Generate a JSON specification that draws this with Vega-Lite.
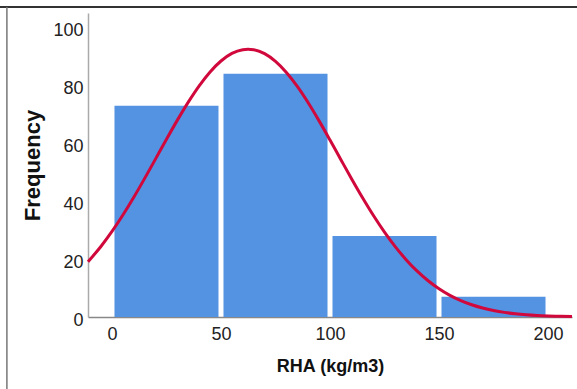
{
  "$schema": "https://vega.github.io/schema/vega-lite/v6.json",
  "width": 484,
  "height": 304,
  "autosize": "none",
  "padding": {"left": 88, "top": 13, "right": 5, "bottom": 72},
  "background": "white",
  "config": {
    "view": {"stroke": null},
    "font": "Liberation Sans",
    "axis": {"grid": false, "ticks": false, "labelFont": "Liberation Sans", "titleFont": "Liberation Sans", "labelColor": "#222222", "titleColor": "#111111", "labelFontSize": 18, "titleFontWeight": "bold"}
  },
  "datasets": {
    "bars": [
      {"start": 0, "end": 50, "count": 73},
      {"start": 50, "end": 100, "count": 84},
      {"start": 100, "end": 150, "count": 28},
      {"start": 150, "end": 200, "count": 7}
    ],
    "curve": [
      {"x": -11, "y": 19.07}, {"x": -5, "y": 24.43}, {"x": 0, "y": 29.55}, {"x": 5, "y": 35.22},
      {"x": 10, "y": 41.36}, {"x": 15, "y": 47.88}, {"x": 20, "y": 54.61}, {"x": 25, "y": 61.39},
      {"x": 30, "y": 68.0}, {"x": 35, "y": 74.23}, {"x": 40, "y": 79.85}, {"x": 45, "y": 84.65},
      {"x": 50, "y": 88.42}, {"x": 55, "y": 91.03}, {"x": 60, "y": 92.34}, {"x": 62.4, "y": 92.5},
      {"x": 65, "y": 92.32}, {"x": 70, "y": 90.95}, {"x": 75, "y": 88.29}, {"x": 80, "y": 84.47},
      {"x": 85, "y": 79.64}, {"x": 90, "y": 73.99}, {"x": 95, "y": 67.74}, {"x": 100, "y": 61.12},
      {"x": 105, "y": 54.34}, {"x": 110, "y": 47.61}, {"x": 115, "y": 41.11}, {"x": 120, "y": 34.97},
      {"x": 125, "y": 29.33}, {"x": 130, "y": 24.24}, {"x": 135, "y": 19.73}, {"x": 140, "y": 15.84},
      {"x": 145, "y": 12.52}, {"x": 150, "y": 9.76}, {"x": 155, "y": 7.49}, {"x": 160, "y": 5.67},
      {"x": 165, "y": 4.23}, {"x": 170, "y": 3.11}, {"x": 175, "y": 2.25}, {"x": 180, "y": 1.6},
      {"x": 185, "y": 1.13}, {"x": 190, "y": 0.78}, {"x": 195, "y": 0.53}, {"x": 200, "y": 0.36},
      {"x": 205, "y": 0.24}, {"x": 211, "y": 0.14}
    ]
  },
  "layer": [
    {
      "data": {"name": "bars"},
      "mark": {"type": "bar", "color": "#5492e2", "xOffset": 2.5, "x2Offset": -2.5},
      "encoding": {
        "x": {"field": "start", "type": "quantitative", "scale": {"domain": [-11, 211], "nice": false, "zero": false},
              "axis": {"values": [0, 50, 100, 150, 200], "title": "RHA (kg/m3)", "titleFontSize": 18, "titlePadding": 14, "labelPadding": 8, "labelFontSize": 18, "domainColor": "#888888", "domainWidth": 1.5, "labelFlush": false}},
        "x2": {"field": "end"},
        "y": {"field": "count", "type": "quantitative", "scale": {"domain": [0, 105], "nice": false},
              "axis": {"values": [0, 20, 40, 60, 80, 100], "title": "Frequency", "titleFontSize": 22, "titlePadding": 8, "labelPadding": 5, "labelFontSize": 18, "labelOffset": 3, "domainColor": "#aaaaaa", "domainWidth": 1.5}},
        "y2": {"datum": 0}
      }
    },
    {
      "data": {"name": "curve"},
      "mark": {"type": "line", "color": "#d1083b", "strokeWidth": 3, "interpolate": "monotone"},
      "encoding": {
        "x": {"field": "x", "type": "quantitative", "scale": {"domain": [-11, 211], "nice": false, "zero": false}},
        "y": {"field": "y", "type": "quantitative", "scale": {"domain": [0, 105], "nice": false}}
      }
    },
    {
      "data": {"values": [{}]},
      "mark": {"type": "rule", "color": "#333333", "strokeWidth": 2, "clip": false},
      "encoding": {
        "x": {"datum": -55, "type": "quantitative"},
        "x2": {"datum": 216},
        "y": {"datum": 107.1, "type": "quantitative"}
      }
    },
    {
      "data": {"values": [{}]},
      "mark": {"type": "rule", "color": "#777777", "strokeWidth": 1.5, "clip": false},
      "encoding": {
        "x": {"datum": -48.2, "type": "quantitative"},
        "y": {"datum": 107.1, "type": "quantitative"},
        "y2": {"datum": -30}
      }
    }
  ]
}
